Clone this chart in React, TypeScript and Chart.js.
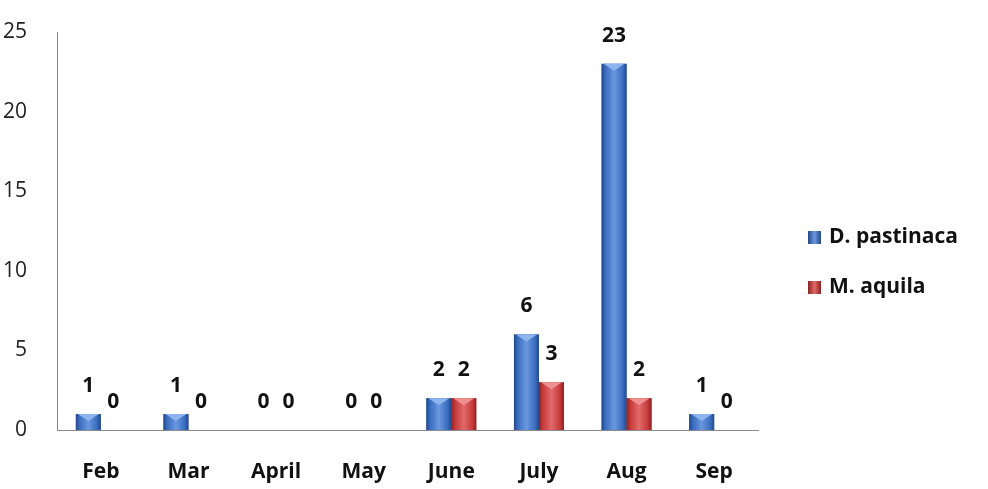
import React, { useEffect, useRef } from "react";
import { Chart, registerables } from "chart.js";

Chart.register(...registerables);

const months = ["Feb", "Mar", "April", "May", "June", "July", "Aug", "Sep"];
const pastinaca = [1, 1, 0, 0, 2, 6, 23, 1];
const aquila = [0, 0, 0, 0, 2, 3, 2, 0];
const seriesNames = ["D. pastinaca", "M. aquila"];
const yTicks = [0, 5, 10, 15, 20, 25];

const FONT = "'Open Sans', 'Liberation Sans', sans-serif";

const palette = [
  { base: "#3a6cc0", light: "#6a98de", dark: "#234788", cap: "#8db4ee" },
  { base: "#c53a3a", light: "#e16a6a", dark: "#8c2020", cap: "#ef9090" },
];

const bevelPlugin = {
  id: "bevel",
  afterDatasetsDraw(chart: any) {
    const ctx = chart.ctx;
    chart.data.datasets.forEach((ds: any, di: number) => {
      const meta = chart.getDatasetMeta(di);
      const c = palette[di];
      meta.data.forEach((el: any, i: number) => {
        const { x, y, base, width } = el.getProps(["x", "y", "base", "width"], true);
        const left = x - width / 2;
        const right = x + width / 2;
        const h = base - y;
        if (h > 0.5) {
          ctx.save();
          const g = ctx.createLinearGradient(left, 0, right, 0);
          g.addColorStop(0, c.dark);
          g.addColorStop(0.15, c.base);
          g.addColorStop(0.5, c.light);
          g.addColorStop(0.85, c.base);
          g.addColorStop(1, c.dark);
          ctx.fillStyle = g;
          ctx.fillRect(left, y, width, h);
          const capH = Math.min(7, h);
          ctx.beginPath();
          ctx.moveTo(left + 2, y);
          ctx.lineTo(right - 2, y);
          ctx.lineTo(x, y + capH);
          ctx.closePath();
          ctx.fillStyle = c.cap;
          ctx.fill();
          ctx.restore();
        }
        const v = ds.data[i];
        ctx.save();
        ctx.font = `bold 21px ${FONT}`;
        ctx.fillStyle = "#111";
        ctx.textAlign = "center";
        ctx.textBaseline = "middle";
        ctx.fillText(String(v), x, y - 28);
        ctx.restore();
      });
    });
    const lx = 808;
    const ly = [237, 287];
    chart.data.datasets.forEach((ds: any, di: number) => {
      const c = palette[di];
      ctx.save();
      const g = ctx.createLinearGradient(lx, 0, lx + 13, 0);
      g.addColorStop(0, c.dark);
      g.addColorStop(0.5, c.light);
      g.addColorStop(1, c.dark);
      ctx.fillStyle = g;
      ctx.fillRect(lx, ly[di] - 6, 13, 13);
      ctx.font = `bold 21px ${FONT}`;
      ctx.fillStyle = "#111";
      ctx.textAlign = "left";
      ctx.textBaseline = "middle";
      ctx.fillText(ds.label, lx + 21, ly[di]);
      ctx.restore();
    });
  },
};

export default function App() {
  const ref = useRef<HTMLCanvasElement | null>(null);
  useEffect(() => {
    document.body.style.margin = "0";
    const chart = new Chart(ref.current as HTMLCanvasElement, {
      type: "bar",
      data: {
        labels: months,
        datasets: [
          { label: seriesNames[0], data: pastinaca, backgroundColor: palette[0].base },
          { label: seriesNames[1], data: aquila, backgroundColor: palette[1].base },
        ],
      },
      plugins: [bevelPlugin],
      options: {
        animation: false,
        responsive: false,
        maintainAspectRatio: false,
        layout: { padding: { top: 32, right: 230, left: 0, bottom: 0 } },
        datasets: { bar: { barPercentage: 1, categoryPercentage: 0.57 } },
        plugins: { legend: { display: false }, tooltip: { enabled: false } },
        scales: {
          x: {
            grid: { display: false, drawTicks: false },
            border: { display: true, color: "#8a8a8a", width: 1 },
            ticks: { color: "#111", font: { family: FONT, size: 21, weight: "bold" }, padding: 29 },
            afterFit(scale: any) {
              scale.height = 59;
              scale.paddingLeft = 0;
              scale.paddingRight = 0;
            },
          },
          y: {
            min: 0,
            max: 25,
            afterBuildTicks(scale: any) {
              scale.ticks = yTicks.map((v) => ({ value: v }));
            },
            grid: { display: false, drawTicks: false },
            border: { display: true, color: "#8a8a8a", width: 1 },
            ticks: { color: "#222", font: { family: FONT, size: 21 }, padding: 30 },
            afterFit(scale: any) {
              scale.width = 57;
              scale.paddingTop = 0;
              scale.paddingBottom = 0;
            },
          },
        },
      },
    });
    return () => chart.destroy();
  }, []);
  return (
    <div style={{ width: 988, height: 489, background: "#fff" }}>
      <canvas ref={ref} width={988} height={489} />
    </div>
  );
}
